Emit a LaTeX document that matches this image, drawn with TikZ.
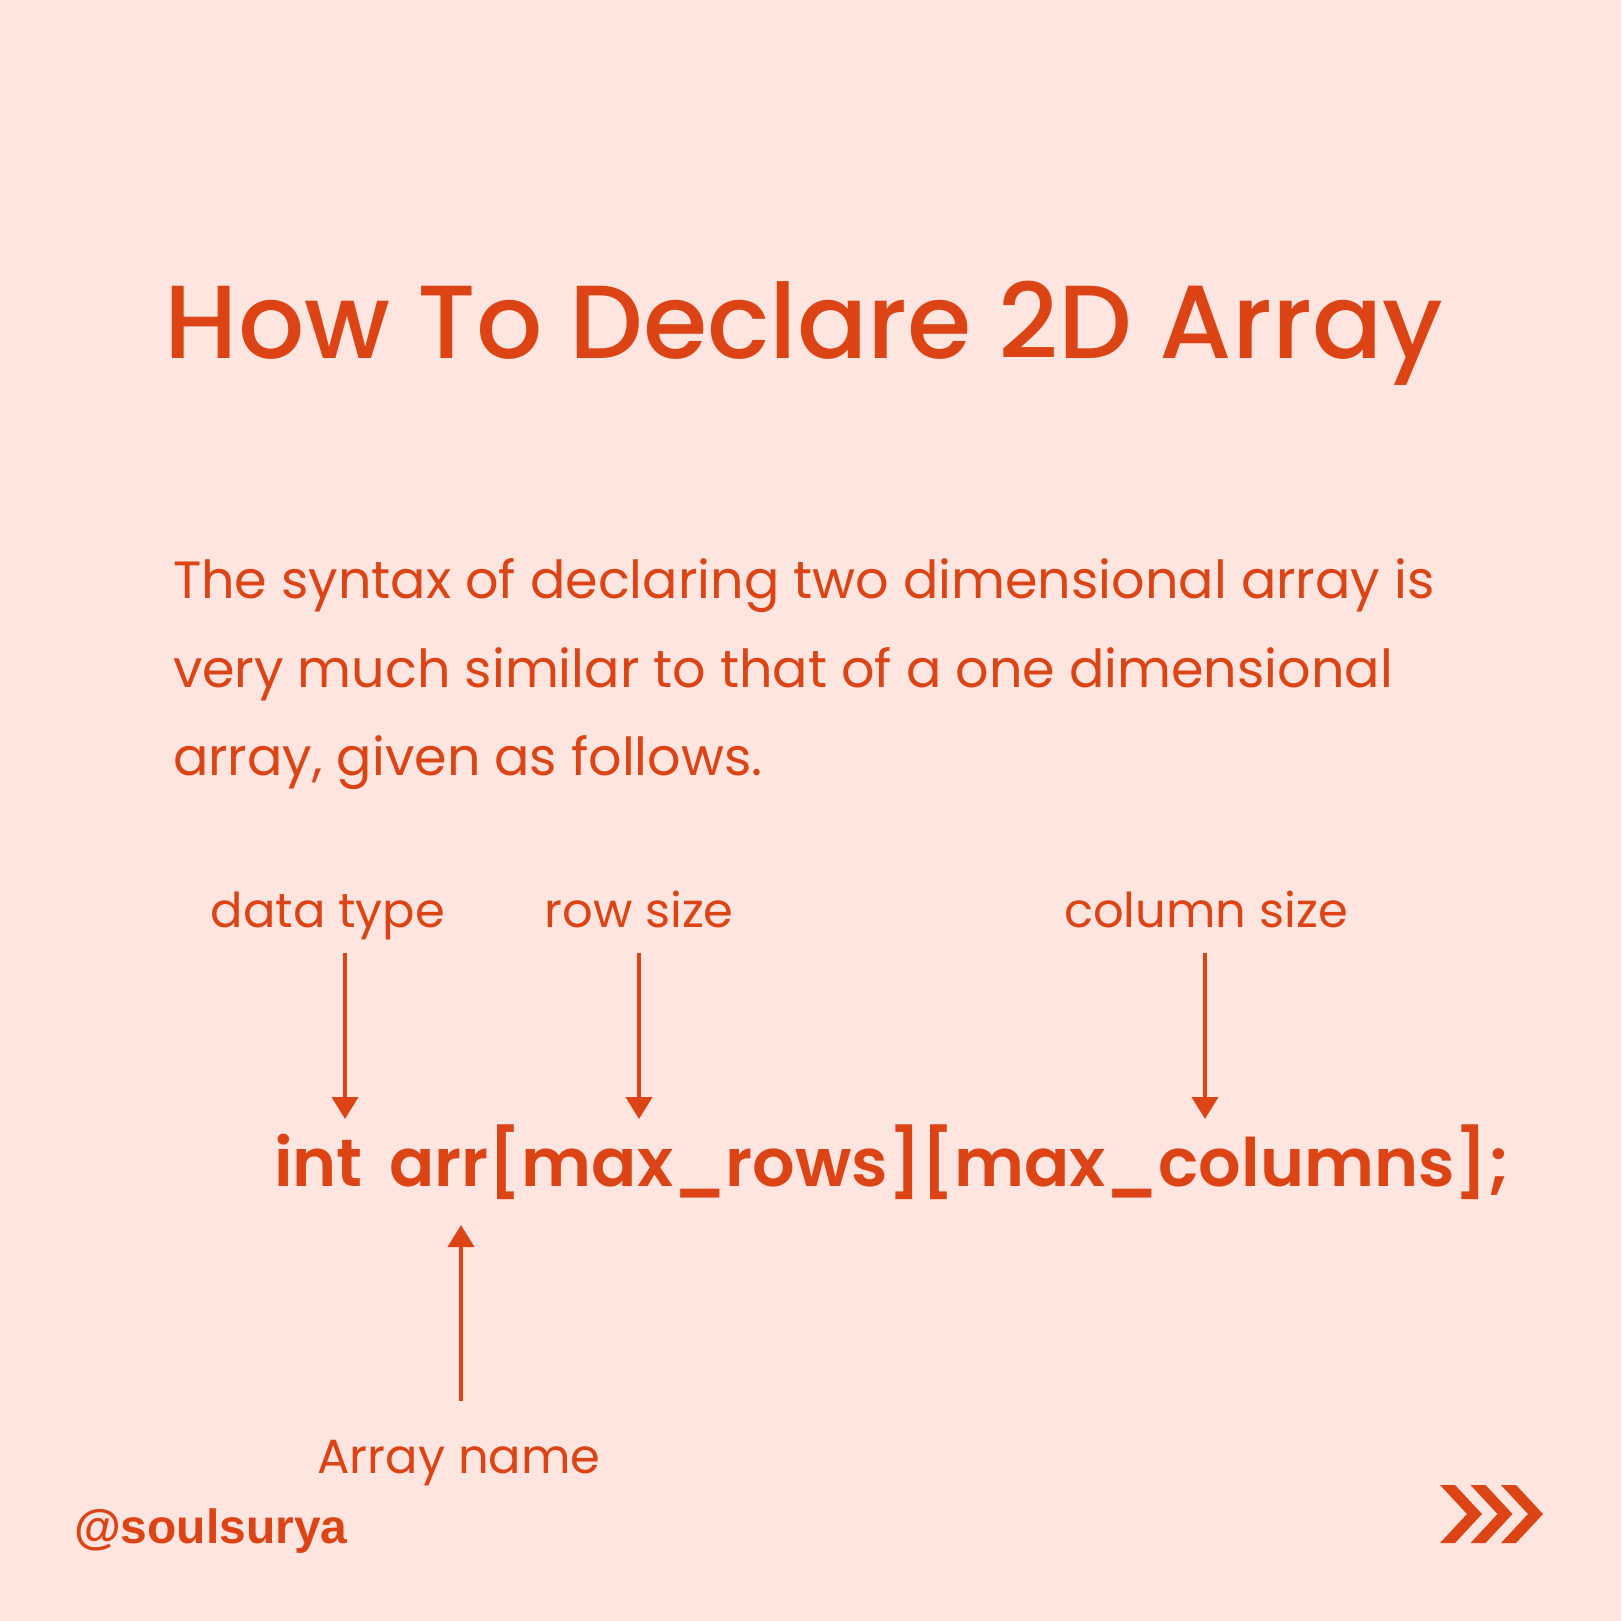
\documentclass[tikz,border=0pt]{standalone}
\usepackage{fontspec}
\setmainfont{Poppins}
\newfontfamily\popmed{Poppins}[UprightFont=* Medium]
\newfontfamily\popsemi{Poppins}[UprightFont=* SemiBold]
\newfontfamily\handlefont{Liberation Sans}[UprightFont=* Bold]
\usetikzlibrary{arrows.meta}
\definecolor{bgpink}{HTML}{FEE5DF}
\definecolor{rust}{HTML}{DC4415}
\begin{document}
\begin{tikzpicture}[x=0.5pt,y=-0.5pt,
  txt/.style={text=rust,inner sep=0pt,outer sep=0pt},
  label/.style={txt,anchor=base,font=\fontsize{24}{29}\selectfont},
  body/.style={txt,anchor=base west,font=\fontsize{26.2}{32}\selectfont},
  pointer/.style={draw=rust,line width=2pt,-{Triangle[width=13pt,length=11pt]}}]
% page
\fill[bgpink] (0,0) rectangle (1621,1621);
\useasboundingbox (0,0) rectangle (1621,1621);
% heading
\node[txt,anchor=base,font=\popmed\fontsize{52}{62}\selectfont] (title) at (804,358) {How To Declare 2D Array};
% paragraph
\node[body] (l1) at (173,598) {The syntax of declaring two dimensional array is};
\node[body] (l2) at (173,687) {very much similar to that of a one dimensional};
\node[body] (l3) at (173,775) {array, given as follows.};
% labels above the declaration
\node[label] (dtype) at (328,927) {data type};
\node[label] (rsize) at (639,927) {row size};
\node[label] (csize) at (1206,927) {column size};
% the declaration
\node[txt,anchor=base west,font=\popsemi\fontsize{33.4}{40}\selectfont] (code) at (274,1186) {int\hspace{0.4em}arr[max\_rows][max\_columns];};
% label below
\node[label] (aname) at (459,1473) {Array name};
% pointer arrows
\coordinate (dtop) at (345,953);  \coordinate (dtip) at (345,1119);
\coordinate (rtop) at (639,953);  \coordinate (rtip) at (639,1119);
\coordinate (ctop) at (1205,953); \coordinate (ctip) at (1205,1119);
\coordinate (abot) at (461,1401); \coordinate (atip) at (461,1225);
\draw[pointer] (dtop) -- (dtip);
\draw[pointer] (rtop) -- (rtip);
\draw[pointer] (ctop) -- (ctip);
\draw[pointer] (abot) -- (atip);
% handle
\node[txt,anchor=base west,font=\handlefont\fontsize{24}{28}\selectfont] (handle) at (74,1543) {@soulsurya};
% next chevrons
\foreach \dx in {0,30.5,61}{
  \fill[rust] (1440+\dx,1485) -- (1455+\dx,1485) -- (1482+\dx,1514) -- (1455+\dx,1543) -- (1440+\dx,1543) -- (1467+\dx,1514) -- cycle;
}
\end{tikzpicture}
\end{document}
